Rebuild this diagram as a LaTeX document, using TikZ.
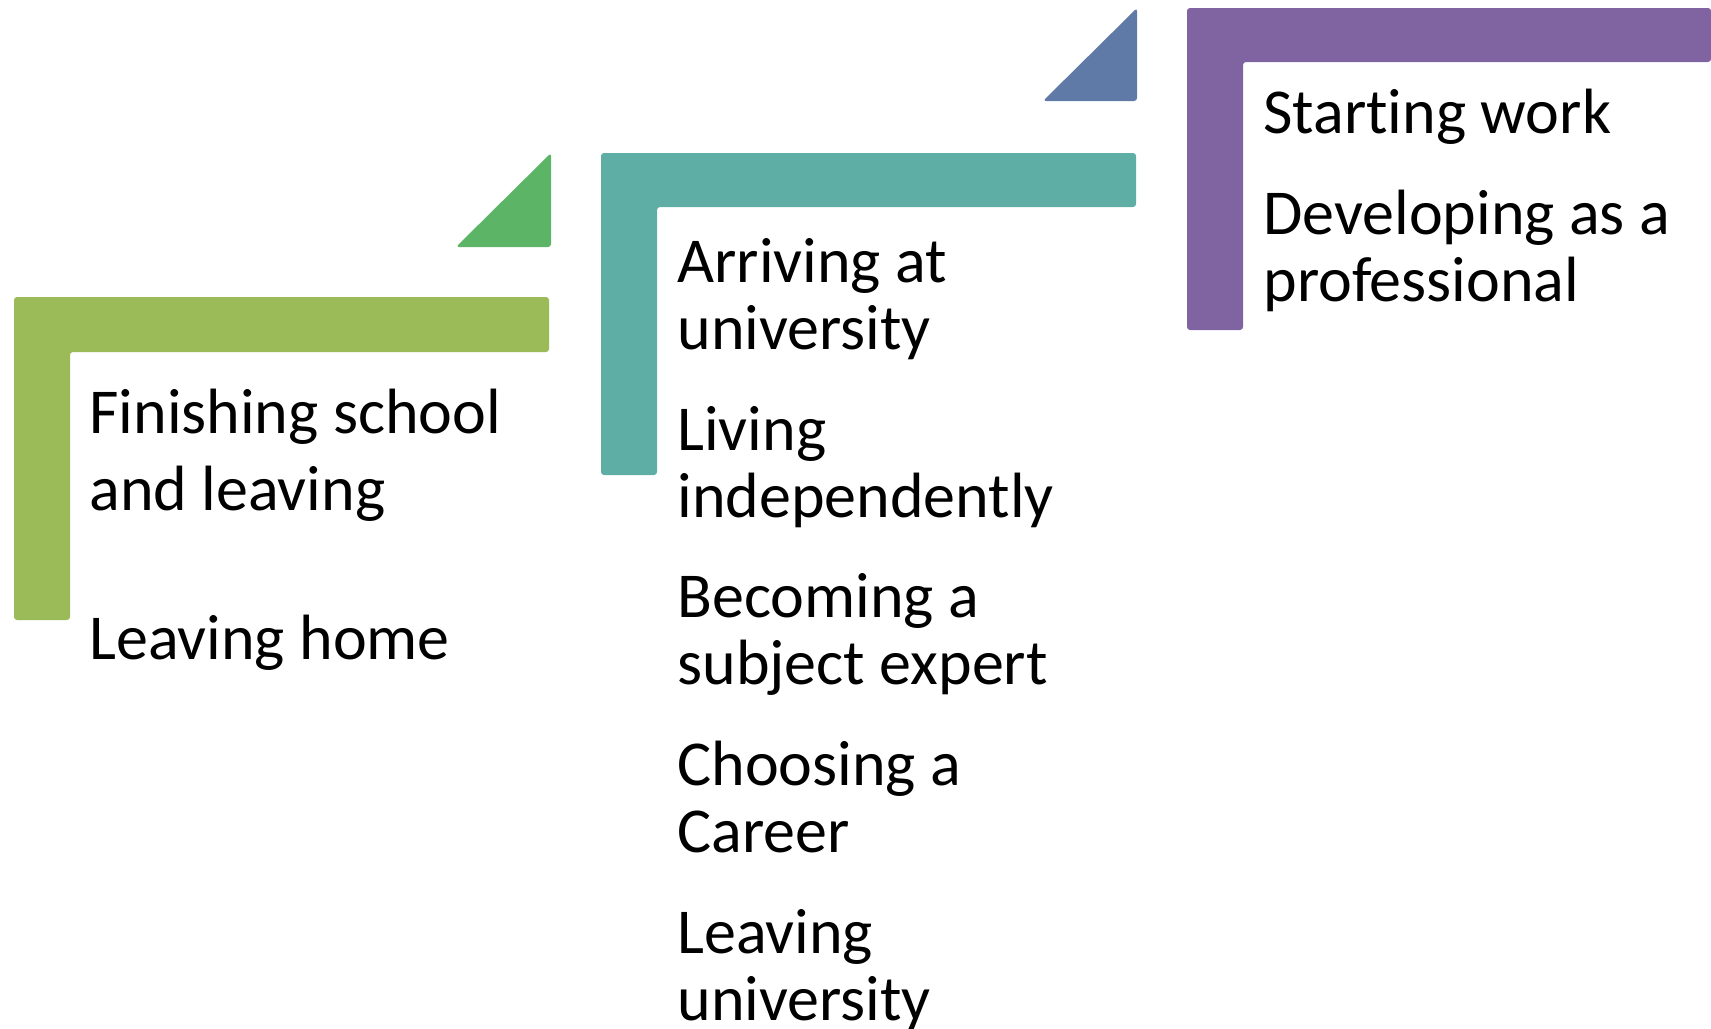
\documentclass[tikz,border=0pt]{standalone}
\usepackage{fontspec}
\setmainfont{Carlito}[Ligatures=NoCommon]
\definecolor{stepgreen}{RGB}{155,187,89}
\definecolor{arrowgreen}{RGB}{92,180,102}
\definecolor{stepteal}{RGB}{94,174,165}
\definecolor{arrowblue}{RGB}{96,122,168}
\definecolor{steppurple}{RGB}{128,100,162}
\tikzset{
  stair/.style={rounded corners=1.5pt, draw=none},
  % anchored on the baseline of the last line
  item/.style={anchor=base west, align=left, inner sep=0pt,
    font=\fontsize{32}{33.5}\selectfont},
  bigitem/.style={item, font=\fontsize{32}{38.5}\selectfont},
}
\begin{document}
\begin{tikzpicture}[x=0.5pt,y=-0.5pt]
\useasboundingbox (0,0) rectangle (1711,1028);

% step 1: green bracket and arrow
\fill[stepgreen, stair] (14,297) -- (549,297) -- (549,352) -- (70,352) -- (70,620) -- (14,620) -- cycle;
\fill[arrowgreen, stair] (456,247) -- (551,153) -- (551,247) -- cycle;

% step 2: teal bracket and blue arrow
\fill[stepteal, stair] (601,153) -- (1136,153) -- (1136,207) -- (657,207) -- (657,475) -- (601,475) -- cycle;
\fill[arrowblue, stair] (1043,101) -- (1137,8) -- (1137,101) -- cycle;

% step 3: purple bracket
\fill[steppurple, stair] (1187,8) -- (1711,8) -- (1711,62) -- (1243,62) -- (1243,330) -- (1187,330) -- cycle;

% step 1 text
\node[bigitem] (school) at (89,659) {Finishing school\\and leaving\\[36pt]Leaving home};

% step 2 text
\node[item] (arrive) at (677,349) {Arriving at\\university};
\node[item] (living) at (677,517) {Living\\independently};
\node[item] (expert) at (677,684) {Becoming a\\subject expert};
\node[item] (career) at (677,852) {Choosing a\\Career};
\node[item] (leaveuni) at (677,1020) {Leaving\\university};

% step 3 text
\node[item] (work) at (1263,133) {Starting work};
\node[item] (develop) at (1263,301) {Developing as a\\professional};
\end{tikzpicture}
\end{document}
